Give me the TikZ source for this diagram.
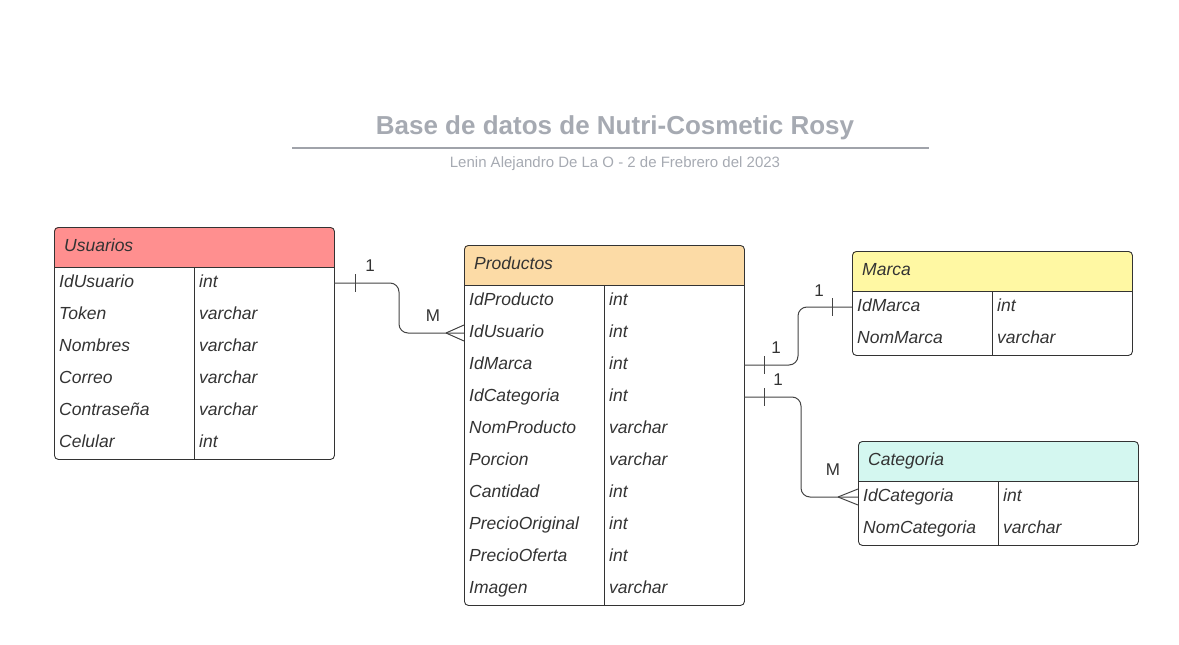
\documentclass[tikz,border=0pt]{standalone}
\usepackage{fontspec}
\setmainfont{Liberation Sans}
\usetikzlibrary{calc}
\definecolor{ink}{HTML}{333333}
\definecolor{titlegray}{HTML}{A6AAB2}
\definecolor{linegray}{HTML}{A0A3AA}
\definecolor{connc}{HTML}{444444}
\definecolor{cUsu}{HTML}{FF8F8F}
\definecolor{cProd}{HTML}{FCDBA6}
\definecolor{cMarca}{HTML}{FFF8A3}
\definecolor{cCat}{HTML}{D4F7F0}
\tikzset{
  tbl/.style={draw=ink, line width=0.9pt, rounded corners=4pt, minimum width=280pt, inner sep=0pt, fill=none},
  hdr/.style={text=ink, inner sep=0pt, font=\itshape\fontsize{17.5}{20}\selectfont},
  field/.style={text=ink, inner sep=0pt, font=\itshape\fontsize{17.5}{20}\selectfont},
  border/.style={draw=ink, line width=0.9pt},
  conn/.style={draw=connc, line width=1pt},
  card/.style={text=ink, inner sep=0pt, font=\fontsize{17}{20}\selectfont},
}
\newcommand{\ertable}[7]{%
  \pgfmathsetmacro\tabh{40+32*#4}
  \begin{scope}
    \clip[rounded corners=4pt] (#2,#3) rectangle ++(280,\tabh);
    \fill[#5] (#2,#3) rectangle ++(280,40);
  \end{scope}
  \node[tbl, minimum height=\tabh pt, anchor=north west] (#1) at (#2,#3) {};
  \node[hdr, anchor=base west] (#1-title) at (#2+10,#3+24.5) {#6};
  \draw[border] (#2,#3+40) -- ++(280,0);
  \draw[border] (#2+140,#3+40) -- (#2+140,#3+\tabh);
  \foreach \f/\t [count=\i] in {#7} {
    \pgfmathsetmacro\rowy{#3+40+32*\i-16}
    \coordinate (#1-\i-w) at (#2,\rowy);
    \coordinate (#1-\i-e) at (#2+280,\rowy);
    \node[field, anchor=base west] (#1-\i-name) at (#2+5,\rowy+4.5) {\f};
    \node[field, anchor=base west] (#1-\i-type) at (#2+145,\rowy+4.5) {\t};
  }
}
\begin{document}
\begin{tikzpicture}[x=1pt,y=-1pt]
\useasboundingbox (0,0) rectangle (1179,645);
% title
\node[text=titlegray, font=\bfseries\fontsize{26}{30}\selectfont, inner sep=0pt, anchor=base] (title) at (615,134.3) {Base de datos de Nutri-Cosmetic Rosy};
\coordinate (rulel) at (292,148);
\coordinate (ruler) at (929,148);
\draw[linegray, line width=2pt] (rulel) -- (ruler);
\node[text=titlegray, font=\fontsize{15}{18}\selectfont, inner sep=0pt, anchor=base] (subtitle) at (615,167.4) {Lenin Alejandro De La O - 2 de Frebrero del 2023};

% tables
\ertable{u}{54}{227}{6}{cUsu}{Usuarios}{IdUsuario/int,Token/varchar,Nombres/varchar,Correo/varchar,Contraseña/varchar,Celular/int}
\ertable{p}{464}{245}{10}{cProd}{Productos}{IdProducto/int,IdUsuario/int,IdMarca/int,IdCategoria/int,NomProducto/varchar,Porcion/varchar,Cantidad/int,PrecioOriginal/int,PrecioOferta/int,Imagen/varchar}
\ertable{m}{852}{251}{2}{cMarca}{Marca}{IdMarca/int,NomMarca/varchar}
\ertable{c}{858}{441}{2}{cCat}{Categoria}{IdCategoria/int,NomCategoria/varchar}

% Usuarios -> Productos (1 : M)
\draw[conn, rounded corners=9pt] (u-1-e) -| ($(u-1-e)!0.5!(p-2-w)$) |- (p-2-w);
\draw[conn] ($(u-1-e)+(21,-9)$) -- ($(u-1-e)+(21,9)$);
\draw[conn] ($(p-2-w)+(-18,0)$) -- ($(p-2-w)+(0,-8)$);
\draw[conn] ($(p-2-w)+(-18,0)$) -- ($(p-2-w)+(0,8)$);
\node[card] (l1) at ($(u-1-e)+(36,-17)$) {1};
\node[card] (l2) at ($(p-2-w)+(-31,-17)$) {M};

% Productos -> Marca (1 : 1)
\draw[conn, rounded corners=9pt] (p-3-e) -| ($(p-3-e)!0.5!(m-1-w)$) |- (m-1-w);
\draw[conn] ($(p-3-e)+(20,-9)$) -- ($(p-3-e)+(20,9)$);
\draw[conn] ($(m-1-w)+(-20,-9)$) -- ($(m-1-w)+(-20,9)$);
\node[card] (l3) at ($(p-3-e)+(32,-17)$) {1};
\node[card] (l4) at ($(m-1-w)+(-33,-16)$) {1};

% Productos -> Categoria (1 : M)
\draw[conn, rounded corners=9pt] (p-4-e) -| ($(p-4-e)!0.5!(c-1-w)$) |- (c-1-w);
\draw[conn] ($(p-4-e)+(20,-9)$) -- ($(p-4-e)+(20,9)$);
\draw[conn] ($(c-1-w)+(-20,0)$) -- ($(c-1-w)+(0,-8)$);
\draw[conn] ($(c-1-w)+(-20,0)$) -- ($(c-1-w)+(0,8)$);
\node[card] (l5) at ($(p-4-e)+(34,-17)$) {1};
\node[card] (l6) at ($(c-1-w)+(-25,-27)$) {M};
\end{tikzpicture}
\end{document}
